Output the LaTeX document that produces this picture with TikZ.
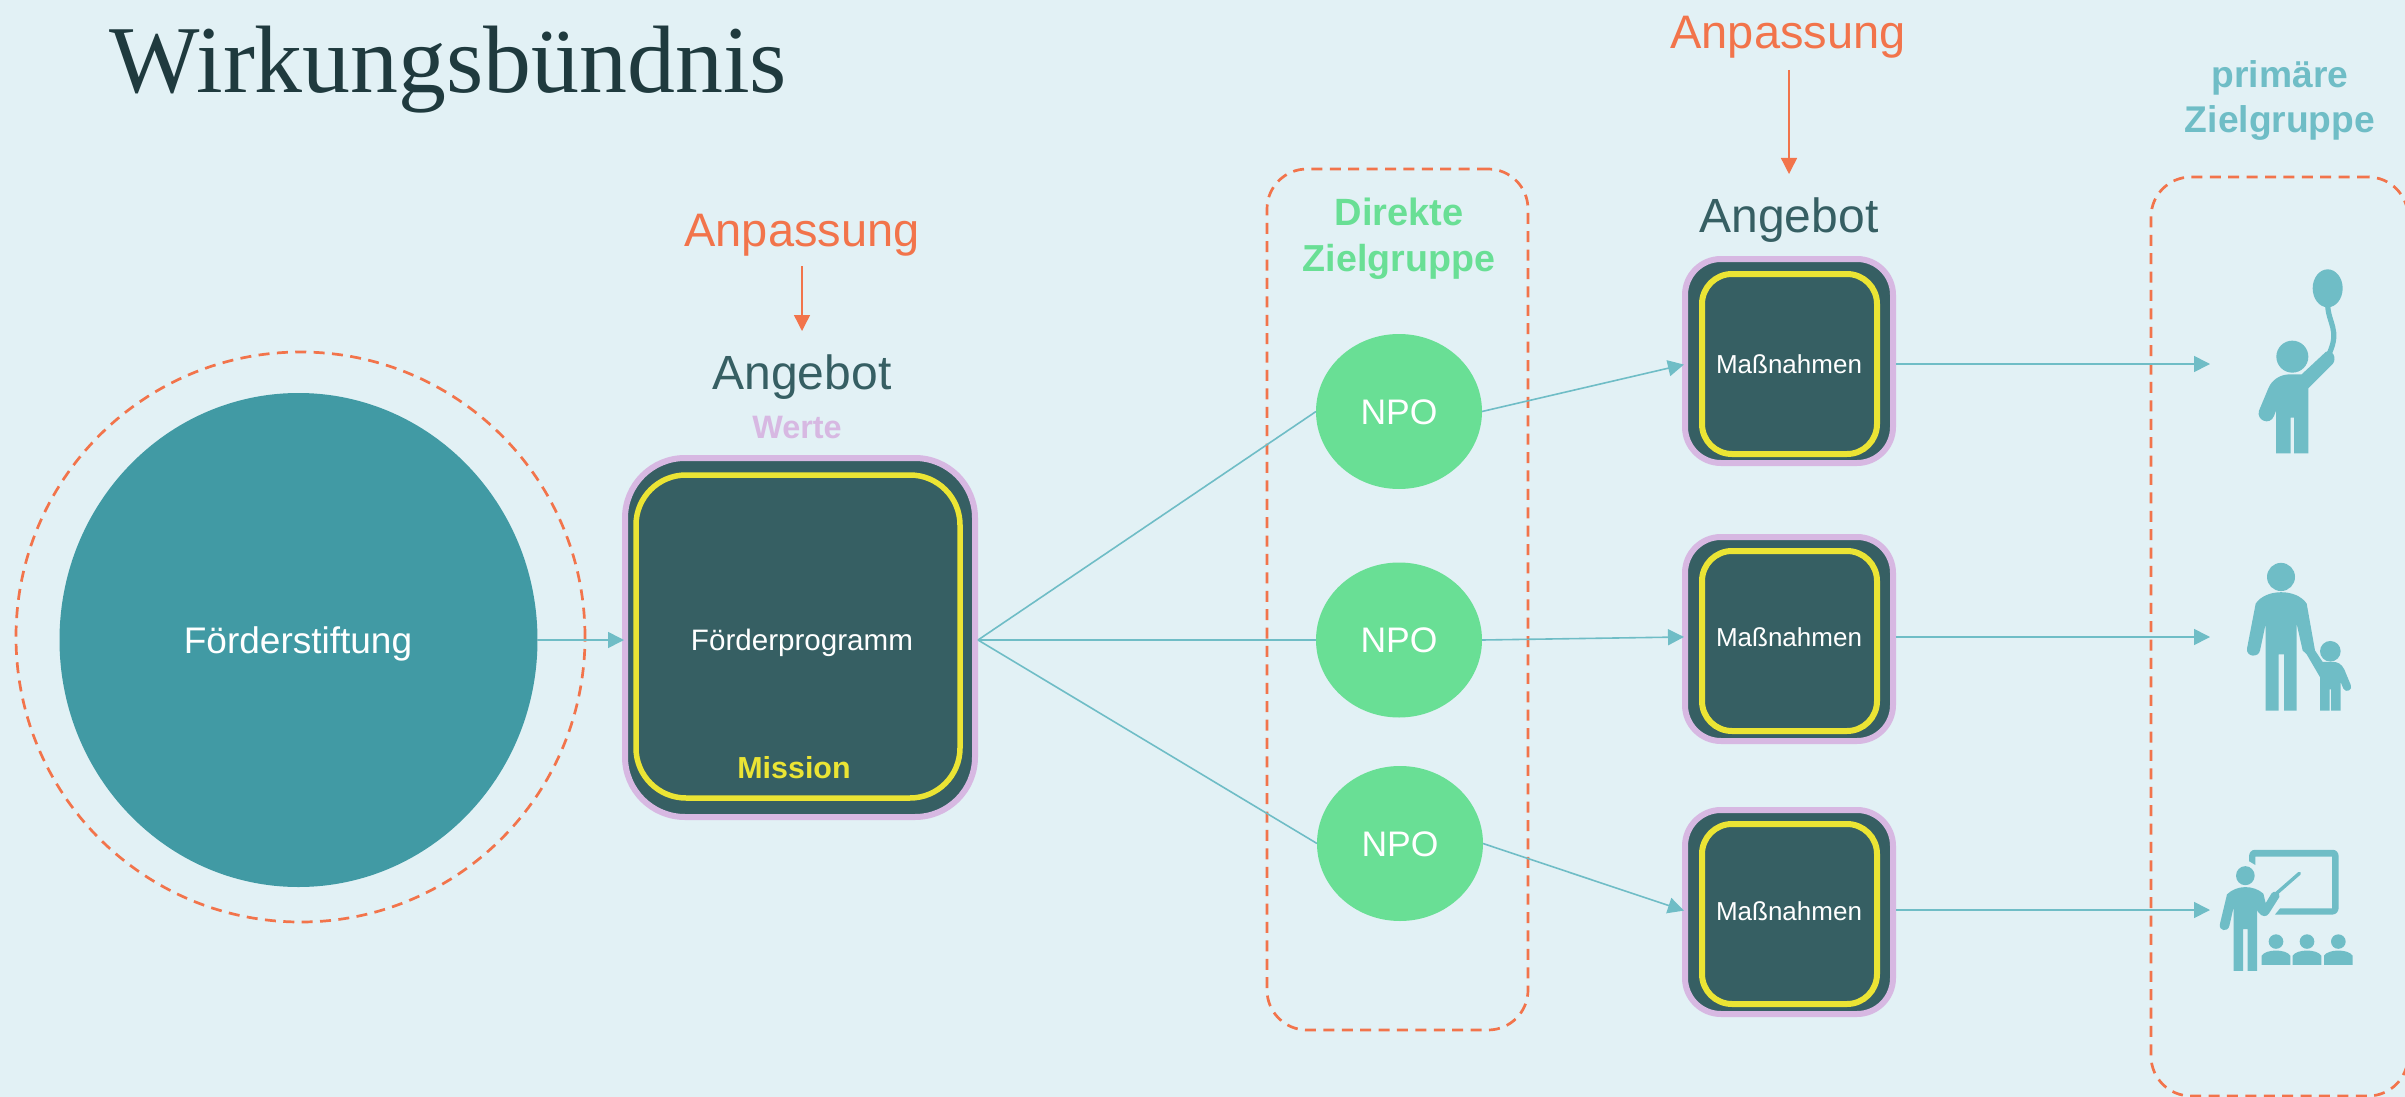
\documentclass[tikz,border=0pt]{standalone}
\usepackage{fontspec}
\setmainfont{Liberation Sans}
\newfontfamily\titlefont{Liberation Serif}
\usetikzlibrary{arrows.meta,shapes.geometric}
\definecolor{bgc}{HTML}{E2F1F5}
\definecolor{darkc}{HTML}{365F63}
\definecolor{purplec}{HTML}{D7B8E2}
\definecolor{yellowc}{HTML}{EBE434}
\definecolor{tealc}{HTML}{419AA4}
\definecolor{greenc}{HTML}{69DF95}
\definecolor{orangec}{HTML}{F2744B}
\definecolor{linec}{HTML}{6FBDC6}
\definecolor{titlec}{HTML}{1F3A3E}
\newcommand{\fpt}[1]{\fontsize{#1}{#1}\selectfont}
\tikzset{
  label/.style={anchor=base,inner sep=0pt,outer sep=0pt},
  dashbox/.style={draw=orangec,line width=1.35pt,dash pattern=on 5.5pt off 3.7pt,rounded corners=20pt,fill=none,inner sep=0pt},
  outerbig/.style={draw=purplec,fill=darkc,line width=3pt,rounded corners=30pt,minimum width=175pt,minimum height=179.5pt,inner sep=0pt},
  innerbig/.style={draw=yellowc,line width=2.75pt,rounded corners=25pt,minimum width=162pt,minimum height=161.5pt,inner sep=0pt},
  outersmall/.style={draw=purplec,fill=darkc,line width=3pt,rounded corners=18pt,minimum width=104pt,minimum height=102pt,inner sep=0pt},
  innersmall/.style={draw=yellowc,line width=3pt,rounded corners=15pt,minimum width=87.5pt,minimum height=90pt,inner sep=0pt},
  npo/.style={ellipse,fill=greenc,minimum width=83pt,minimum height=77.5pt,inner sep=0pt,outer sep=0pt},
  conn/.style={draw=linec,line width=.8pt,-{Triangle[length=8pt,width=8pt]}},
  plainconn/.style={draw=linec,line width=.8pt},
  orangearrow/.style={draw=orangec,line width=.7pt,-{Triangle[length=8pt,width=8pt]}},
  icon/.style={fill=linec,draw=none},
}
\begin{document}
\begin{tikzpicture}[x=0.5pt,y=-0.5pt]
\useasboundingbox (0,0) rectangle (2405,1097);
\fill[bgc] (0,0) rectangle (2405,1097);

% title
\node[label,text=titlec] (title) at (448.5,93) {\titlefont\fpt{47.9}Wirkungsbündnis};

% dashed frames
\node[dashbox,ellipse,rounded corners=0pt,minimum width=284.5pt,minimum height=285pt] (ring) at (300.5,637) {};
\node[dashbox,minimum width=130.5pt,minimum height=430.5pt] (direct) at (1397.5,599.5) {};
\node[dashbox,minimum width=128.5pt,minimum height=459.5pt] (primary) at (2279.5,636.5) {};

% foundation
\node[ellipse,fill=tealc,minimum width=239pt,minimum height=247pt,inner sep=0pt,outer sep=0pt] (stiftung) at (298.5,640) {};
\node[label,text=white] (stiftungtext) at (298,653) {\fpt{18.5}Förderstiftung};

% programme box
\node[outerbig] (prog) at (800,637.5) {};
\node[innerbig] (proginner) at (798,636.5) {};
\node[label,text=white] (progtext) at (802,650) {\fpt{14.8}Förderprogramm};
\node[label,text=yellowc] (mission) at (794,778) {\fpt{15.2}\bfseries Mission};
\node[label,text=purplec] (werte) at (797,438) {\fpt{16.2}\bfseries Werte};
\node[label,text=darkc] (ang1) at (802,389) {\fpt{24}Angebot};
\node[label,text=orangec] (anp1) at (802,246) {\fpt{23.5}Anpassung};

% NPO
\node[npo] (n1) at (1399,411.5) {};
\node[npo] (n2) at (1399,640) {};
\node[npo] (n3) at (1400,843.5) {};
\node[label,text=white] (n1t) at (1399,424) {\fpt{17.75}NPO};
\node[label,text=white] (n2t) at (1399,652.5) {\fpt{17.75}NPO};
\node[label,text=white] (n3t) at (1400,856.5) {\fpt{17.75}NPO};
\node[label,text=greenc] (dz1) at (1399,226) {\fpt{19}\bfseries Direkte};
\node[label,text=greenc] (dz2) at (1399,271) {\fpt{18.8}\bfseries Zielgruppe};

% measure boxes
\node[outersmall] (m1) at (1789,361) {};
\node[innersmall] (m1i) at (1789.5,364) {};
\node[label,text=white] (m1t) at (1789,373) {\fpt{13}Maßnahmen};
\node[outersmall] (m2) at (1789,639) {};
\node[innersmall] (m2i) at (1789.5,641) {};
\node[label,text=white] (m2t) at (1789,646) {\fpt{13}Maßnahmen};
\node[outersmall] (m3) at (1789,912) {};
\node[innersmall] (m3i) at (1789.5,914) {};
\node[label,text=white] (m3t) at (1789,920) {\fpt{13}Maßnahmen};
\node[label,text=darkc] (ang2) at (1789,232) {\fpt{24}Angebot};
\node[label,text=orangec] (anp2) at (1788,49) {\fpt{23.5}Anpassung};

% primary target label
\node[label,text=linec] (pz1) at (2280,88) {\fpt{18.6}\bfseries primäre};
\node[label,text=linec] (pz2) at (2280,133) {\fpt{18.6}\bfseries Zielgruppe};

% arrow targets at the icons
\coordinate (t1) at (2210,364);
\coordinate (t2) at (2210,637);
\coordinate (t3) at (2210,910);

% connectors
\draw[conn,shorten >=-1pt] (stiftung.east) -- ([yshift=-1.25pt]prog.west);
\draw[plainconn] ([yshift=-1.25pt]prog.east) -- (n1.west);
\draw[plainconn] ([yshift=-1.25pt]prog.east) -- (n2.west);
\draw[plainconn] ([yshift=-1.25pt]prog.east) -- (n3.west);
\draw[conn,shorten >=-1pt] (n1.east) -- ([yshift=-2pt]m1.west);
\draw[conn,shorten >=-1pt] (n2.east) -- ([yshift=1pt]m2.west);
\draw[conn,shorten >=-1pt] (n3.east) -- ([yshift=1pt]m3.west);
\draw[conn] ([yshift=-1.5pt]m1.east) -- (t1);
\draw[conn] ([yshift=1pt]m2.east) -- (t2);
\draw[conn] ([yshift=1pt]m3.east) -- (t3);
\draw[orangearrow] ([yshift=-10pt]anp1.base) -- ([yshift=29pt]ang1.base);
\draw[orangearrow] ([xshift=.5pt,yshift=-10.5pt]anp2.base) -- ([yshift=29pt]ang2.base);

% child with balloon
\begin{scope}[shift={(2100,0)},xscale=1/3,yscale=1/3]
\fill[icon] (683,865) ellipse [x radius=45,y radius=57];
\draw[linec,line width=2.6pt] (683,915) .. controls (685,970) and (720,990) .. (688,1060);
\fill[icon] (577,1070) circle [radius=48];
\fill[icon] (528,1360) -- (572,1360) -- (572,1253) -- (582,1253) -- (582,1360) -- (625,1360) -- (625,1165)
  -- (698,1092) .. controls (712,1075) and (697,1045) .. (677,1056) -- (605,1123) -- (570,1123)
  .. controls (540,1123) and (515,1140) .. (505,1165) -- (477,1232) .. controls (468,1262) and (510,1278) .. (522,1248)
  -- (528,1232) -- cycle;
\end{scope}

% adult with child
\begin{scope}[shift={(2100,500)},xscale=1/3,yscale=0.381]
\fill[icon] (543,202) ellipse [x radius=42,y radius=37];
\fill[icon] (691,397) ellipse [x radius=31,y radius=27];
\fill[icon] (497,553) -- (536,553) -- (536,405) -- (552,405) -- (552,553) -- (590,553) -- (590,325)
  -- (608,395) -- (620,405) -- (660,465) -- (660,553) -- (689,553) -- (689,497) -- (693,497) -- (693,553) -- (722,553) -- (722,478)
  -- (730,495) .. controls (738,508) and (760,498) .. (752,485) -- (733,445) .. controls (725,430) and (712,425) .. (700,425)
  -- (668,425) -- (645,395) -- (620,272) .. controls (590,232) and (497,232) .. (467,272)
  -- (441,390) .. controls (438,412) and (475,415) .. (480,395) -- (497,325) -- cycle;
\end{scope}

% teacher with class
\begin{scope}[shift={(2100,500)},xscale=1/3,yscale=0.381]
\fill[icon] (466,958) -- (447,948) -- (447,936) .. controls (447,925) and (455,918) .. (465,918) -- (698,918)
  .. controls (708,918) and (716,925) .. (716,936) -- (716,1070) .. controls (716,1080) and (708,1088) .. (698,1088)
  -- (525,1088) -- (540,1072) -- (696,1072) -- (696,936) -- (466,936) -- cycle;
\draw[linec,line width=1.7pt,line cap=round] (530,1032) -- (598,980);
\fill[icon] (436,986) ellipse [x radius=28,y radius=25];
\fill[icon] (401,1236) -- (429,1236) -- (429,1126) -- (443,1126) -- (443,1236) -- (471,1236) -- (471,1075) -- (475,1082)
  .. controls (485,1095) and (500,1095) .. (507,1085) -- (538,1042) .. controls (542,1028) and (522,1024) .. (515,1032)
  -- (497,1058) -- (490,1033) .. controls (460,1010) and (410,1010) .. (381,1035) -- (360,1112) .. controls (355,1132) and (383,1135) .. (388,1118)
  -- (401,1068) -- cycle;
\foreach \cx in {528,621,715}{
  \fill[icon] (\cx,1159) ellipse [x radius=22,y radius=19];
  \fill[icon] (\cx-43,1220) -- (\cx-43,1196) .. controls (\cx-30,1178) and (\cx+30,1178) .. (\cx+43,1196) -- (\cx+43,1220) -- cycle;
}
\end{scope}
\end{tikzpicture}
\end{document}
